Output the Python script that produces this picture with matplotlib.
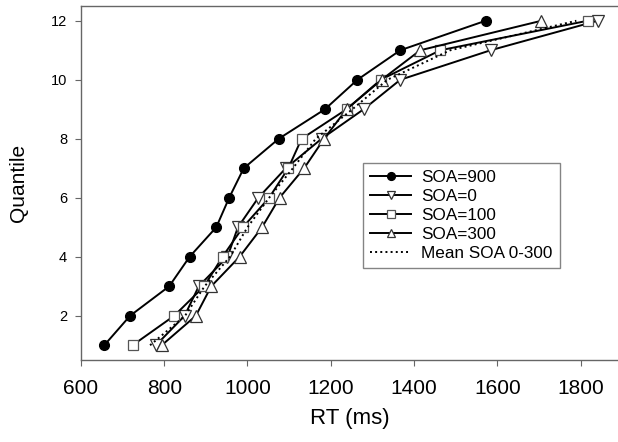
import numpy as np
import matplotlib
matplotlib.use('Agg')
import matplotlib.pyplot as plt

plt.rcParams['font.family'] = ['Liberation Sans', 'DejaVu Sans']

#------------------------------------------------------------------------------
# dati (RT in ms per ogni quantile)

quantile = [1, 2, 3, 4, 5, 6, 7, 8, 9, 10, 11, 12]

soa900 = [656, 718, 812, 861, 925, 956, 991, 1075, 1186, 1264, 1367, 1572]
soa0 = [780, 849, 883, 952, 977, 1026, 1092, 1178, 1279, 1367, 1584, 1841]
soa100 = [724, 824, 896, 940, 989, 1052, 1098, 1130, 1238, 1320, 1463, 1817]
soa300 = [794, 876, 913, 981, 1035, 1077, 1136, 1184, 1238, 1322, 1415, 1706]
mean0_300 = [766, 850, 897, 958, 1000, 1052, 1109, 1164, 1252, 1336, 1487, 1790]

#------------------------------------------------------------------------------
# figura

fig = plt.figure(figsize=(6.18, 4.42), dpi=100)
ax = fig.add_axes([0.131, 0.1855, 0.869, 0.8009])

lw = 1.4
ax.plot(soa900, quantile, '-o', color='black', lw=lw, ms=7,
        mfc='black', mec='black', label='SOA=900')
ax.plot(soa0, quantile, '-v', color='black', lw=lw, ms=8,
        mfc='white', mec='#333333', mew=0.9, label='SOA=0')
ax.plot(soa100, quantile, '-s', color='black', lw=lw, ms=7,
        mfc='white', mec='#555555', mew=0.9, label='SOA=100')
ax.plot(soa300, quantile, '-^', color='black', lw=lw, ms=8,
        mfc='white', mec='#333333', mew=0.9, label='SOA=300')
ax.plot(mean0_300, quantile, ':', color='black', lw=1.4,
        label='Mean SOA 0-300')

ax.set_xlim(600, 1890)
ax.set_ylim(0.5, 12.5)
ax.set_xticks([600, 800, 1000, 1200, 1400, 1600, 1800])
ax.set_yticks([2, 4, 6, 8, 10, 12])

for s in ['left', 'bottom', 'top']:
    ax.spines[s].set_color('#666666')
    ax.spines[s].set_linewidth(1.0)
ax.spines['right'].set_visible(False)

ax.tick_params(axis='x', direction='out', length=4, color='#666666',
               labelsize=15, pad=10)
ax.tick_params(axis='y', direction='out', length=4, color='#666666',
               labelsize=10.5, pad=6)

ax.set_xlabel('RT (ms)', fontsize=16, labelpad=7)
ax.set_ylabel('Quantile', fontsize=15, labelpad=16)

leg = ax.legend(loc='upper left', bbox_to_anchor=(0.525, 0.5565),
                fontsize=12.3, frameon=True, fancybox=False, shadow=False,
                handlelength=2.4, handletextpad=0.6, labelspacing=0.23,
                borderpad=0.42, markerscale=0.8, borderaxespad=0)
leg.get_frame().set_edgecolor('#666666')
leg.get_frame().set_linewidth(1.0)

fig.savefig('out.png', dpi=100)
